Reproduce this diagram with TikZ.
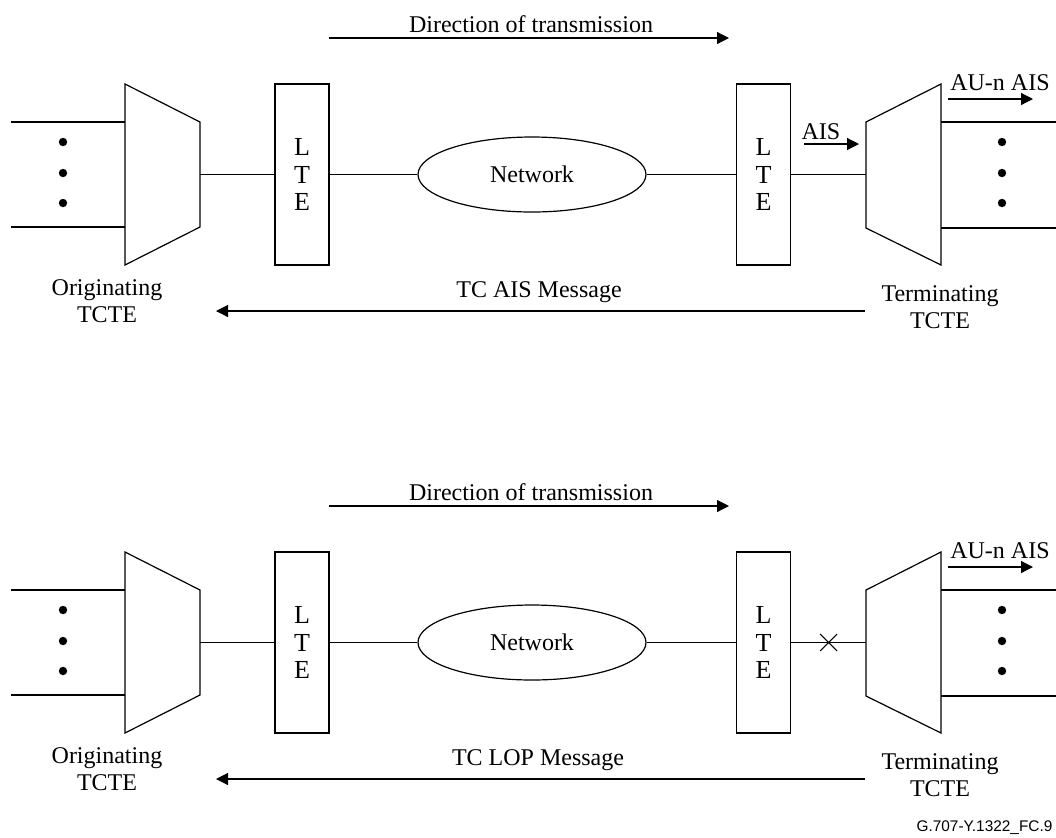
\documentclass[tikz,border=0pt]{standalone}
\usepackage{fontspec}
\setmainfont{Liberation Serif}
\newfontfamily\arialfont{Liberation Sans}
\usetikzlibrary{shapes.geometric,shapes.misc,arrows.meta}
\begin{document}
\begin{tikzpicture}[x=0.5pt,y=-0.5pt,line width=0.6pt,
  every node/.style={font=\fontsize{12}{13.5}\selectfont},
  ltebox/.style={draw,minimum width=27pt,minimum height=90.5pt,inner sep=0pt,align=center,font=\fontsize{13}{13.75}\selectfont},
  netw/.style={draw,ellipse,minimum width=114pt,minimum height=37.5pt,inner sep=0pt},
  arr/.style={-{Triangle[length=6pt,width=6pt]}},
  lbl/.style={align=center,inner sep=0pt},
  dotmark/.style={circle,fill,inner sep=0pt,minimum size=4.2pt},
  cut/.style={draw,cross out,inner sep=0pt,minimum size=8pt,line width=0.5pt}]
\useasboundingbox (0,0) rectangle (1056,837);
\foreach \s/\sh in {a/0pt,b/-234pt}{
\begin{scope}[yshift=\sh]
  % direction of transmission
  \coordinate (ds\s) at (329,38);
  \coordinate (de\s) at (729,38);
  \draw[arr] (ds\s) -- (de\s);
  \node[lbl] (dir\s) at (531,24) {Direction of transmission};
  % originating multiplexer
  \draw (125,84) coordinate (oa\s) -- (200,122) coordinate (ob\s) -- (200,227) coordinate (oc\s) -- (125,265) coordinate (od\s) -- cycle;
  \coordinate (om\s) at (200,174.5);
  \coordinate (ol1\s) at (11,122);
  \coordinate (ol2\s) at (11,227);
  \coordinate (oi1\s) at (125,122);
  \coordinate (oi2\s) at (125,227);
  \draw (ol1\s) -- (oi1\s);
  \draw (ol2\s) -- (oi2\s);
  \node[dotmark] (od1\s) at (63,142) {};
  \node[dotmark] (od2\s) at (63,173) {};
  \node[dotmark] (od3\s) at (63,203) {};
  % LTEs and network
  \node[ltebox] (lteL\s) at (302,174.5) {L\\T\\E};
  \node[ltebox] (lteR\s) at (763.5,174.5) {L\\T\\E};
  \node[netw] (net\s) at (532,174.5) {Network};
  % terminating multiplexer
  \draw (941,84) coordinate (ta\s) -- (866,122) coordinate (tb\s) -- (866,228) coordinate (tc\s) -- (941,265) coordinate (td\s) -- cycle;
  \coordinate (tm\s) at (866,174.5);
  \coordinate (ti1\s) at (941,122);
  \coordinate (ti2\s) at (941,228);
  \coordinate (tl1\s) at (1056,122);
  \coordinate (tl2\s) at (1056,228);
  \draw (ti1\s) -- (tl1\s);
  \draw (ti2\s) -- (tl2\s);
  \node[dotmark] (td1\s) at (1002,142) {};
  \node[dotmark] (td2\s) at (1002,173) {};
  \node[dotmark] (td3\s) at (1002,203) {};
  % connections
  \draw (om\s) -- (lteL\s.west);
  \draw (lteL\s.east) -- (net\s.west);
  \draw (net\s.east) -- (lteR\s.west);
  % AU-n AIS
  \coordinate (us\s) at (948,99);
  \coordinate (ue\s) at (1033,99);
  \draw[arr] (us\s) -- (ue\s);
  \node[lbl] (au\s) at (1000,83) {AU-n AIS};
  % TC message arrow
  \coordinate (ms\s) at (865,311);
  \coordinate (me\s) at (216,311);
  \draw[arr] (ms\s) -- (me\s);
  % end labels
  \node[lbl] (orig\s) at (107,301.5) {Originating\\TCTE};
  \node[lbl] (term\s) at (940,307) {Terminating\\TCTE};
\end{scope}
}
% top diagram specifics
\draw (lteRa.east) -- (tma);
\coordinate (ais1) at (804,144);
\coordinate (ais2) at (859,144);
\draw[arr] (ais1) -- (ais2);
\node[lbl] (aislbl) at (821,132) {AIS};
\node[lbl] (tcais) at (539,292) {TC AIS Message};
% bottom diagram specifics
\draw (lteRb.east) -- node[cut] (break) {} (tmb);
\node[lbl] (tclop) at (538,760) {TC LOP Message};
\node[anchor=east,inner sep=0pt,font=\arialfont\fontsize{7.7}{9}\selectfont] (fig) at (1053,828) {G.707-Y.1322\_FC.9};
\end{tikzpicture}
\end{document}
